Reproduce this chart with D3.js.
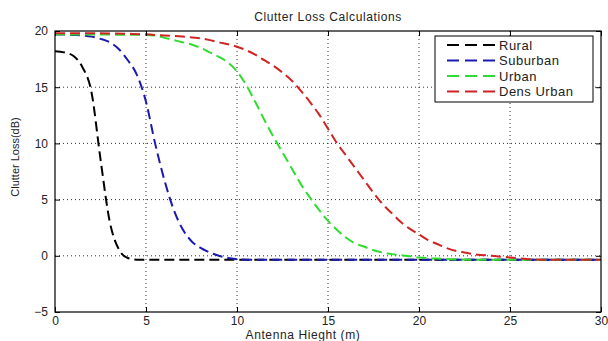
<!DOCTYPE html>
<html>
<head>
<meta charset="utf-8">
<script src="https://cdn.jsdelivr.net/npm/d3@7"></script>
<style>
  body { margin: 0; background: #fff; }
  svg { display: block; font-family: "Liberation Sans", Arial, sans-serif; }
</style>
</head>
<body>
<div id="chart"></div>
<script>
// data
var seriesNames = ["Rural", "Suburban", "Urban", "Dens Urban"];
var ruralX = [0, 0.5, 1, 1.5, 2, 2.5, 3, 3.5, 4, 4.5, 5, 30];
var ruralY = [18.2, 18.1, 17.8, 16.8, 14.6, 8.6, 3.1, 0.6, -0.2, -0.35, -0.35, -0.35];
var suburbanX = [0, 1, 2, 2.5, 3, 3.5, 4, 4.5, 5, 5.5, 6, 6.5, 7, 7.5, 8, 8.5, 9, 9.5, 10, 10.5, 30];
var suburbanY = [19.7, 19.65, 19.5, 19.3, 19.0, 18.4, 17.4, 16.1, 13.7, 10.0, 6.8, 4.2, 2.4, 1.3, 0.7, 0.3, 0.0, -0.2, -0.3, -0.35, -0.35];
var urbanX = [0, 5, 5.5, 6, 6.5, 7, 7.5, 8, 8.5, 9, 9.5, 10, 10.5, 11, 11.5, 12, 12.5, 13, 13.5, 14, 14.5, 15, 15.5, 16, 16.5, 17, 17.5, 18, 18.5, 19, 19.5, 20, 21, 22, 23, 30];
var urbanY = [19.7, 19.65, 19.6, 19.4, 19.2, 19.0, 18.8, 18.5, 18.1, 17.7, 17.2, 16.4, 15.2, 13.7, 12.1, 10.6, 9.2, 7.8, 6.4, 5.2, 4.1, 3.1, 2.3, 1.6, 1.1, 0.8, 0.5, 0.3, 0.15, 0.05, -0.05, -0.15, -0.25, -0.32, -0.35, -0.35];
var densX = [0, 2, 4, 5, 6, 7, 8, 9, 10, 10.5, 11, 11.5, 12, 12.5, 13, 13.5, 14, 14.5, 15, 15.5, 16, 16.5, 17, 17.5, 18, 18.5, 19, 19.5, 20, 20.5, 21, 21.5, 22, 22.5, 23, 24, 25, 26, 27, 30];
var densY = [19.8, 19.8, 19.75, 19.7, 19.6, 19.5, 19.35, 19.0, 18.6, 18.3, 17.9, 17.4, 16.9, 16.3, 15.6, 14.7, 13.7, 12.6, 11.3, 10.0, 8.9, 7.8, 6.7, 5.6, 4.6, 3.8, 3.0, 2.4, 1.9, 1.4, 1.05, 0.7, 0.45, 0.3, 0.15, 0.0, -0.15, -0.3, -0.35, -0.35];
var xTicks = [0, 5, 10, 15, 20, 25, 30];
var yTicks = [-5, 0, 5, 10, 15, 20];
var colors = ["#000000", "#1a1ab0", "#30dc30", "#d02424"];

var series = [
  {name: seriesNames[0], xs: ruralX, ys: ruralY},
  {name: seriesNames[1], xs: suburbanX, ys: suburbanY},
  {name: seriesNames[2], xs: urbanX, ys: urbanY},
  {name: seriesNames[3], xs: densX, ys: densY}
];

var width = 608, height = 341;
var margin = {top: 31, right: 7, bottom: 29, left: 55};
var w = width - margin.left - margin.right;
var h = height - margin.top - margin.bottom;

var svg = d3.select("#chart").append("svg")
    .attr("width", width)
    .attr("height", height);

var x = d3.scaleLinear().domain([0, 30]).range([margin.left, margin.left + w]);
var y = d3.scaleLinear().domain([-5, 20]).range([margin.top + h, margin.top]);

// grid lines (dotted)
svg.append("g").selectAll("line").data(xTicks.slice(1, -1)).enter().append("line")
    .attr("x1", d => x(d)).attr("x2", d => x(d))
    .attr("y1", margin.top).attr("y2", margin.top + h)
    .attr("stroke", "#333").attr("stroke-width", 1).attr("stroke-dasharray", "1,3");
svg.append("g").selectAll("line").data(yTicks.slice(1, -1)).enter().append("line")
    .attr("x1", margin.left).attr("x2", margin.left + w)
    .attr("y1", d => y(d)).attr("y2", d => y(d))
    .attr("stroke", "#333").attr("stroke-width", 1).attr("stroke-dasharray", "1,3");

// curves
var line = d3.line()
    .x(d => x(d[0]))
    .y(d => y(d[1]))
    .curve(d3.curveMonotoneX);

series.forEach(function(s, i) {
  svg.append("path")
      .datum(d3.zip(s.xs, s.ys))
      .attr("d", line)
      .attr("fill", "none")
      .attr("stroke", colors[i])
      .attr("stroke-width", 2)
      .attr("stroke-dasharray", "10,5");
});

// axes, ticks inward on all sides like matlab
var axisFont = function(g) {
  g.select(".domain").remove();
  g.selectAll("text").attr("font-size", "12px").attr("fill", "#222")
    .attr("font-family", "Liberation Sans, Arial, sans-serif");
  g.selectAll(".tick line").attr("stroke", "#000");
};
svg.append("g")
    .attr("transform", `translate(0, ${margin.top + h})`)
    .call(d3.axisBottom(x).tickValues(xTicks).tickSizeInner(-5).tickPadding(4))
    .call(axisFont);
svg.append("g")
    .attr("transform", `translate(${margin.left}, 0)`)
    .call(d3.axisLeft(y).tickValues(yTicks).tickSizeInner(-5).tickPadding(7))
    .call(axisFont);
svg.append("g")
    .attr("transform", `translate(0, ${margin.top})`)
    .call(d3.axisTop(x).tickValues(xTicks).tickSizeInner(-5).tickFormat(""))
    .call(axisFont);
svg.append("g")
    .attr("transform", `translate(${margin.left + w}, 0)`)
    .call(d3.axisRight(y).tickValues(yTicks).tickSizeInner(-5).tickFormat(""))
    .call(axisFont);

// box
svg.append("rect")
    .attr("x", margin.left).attr("y", margin.top)
    .attr("width", w).attr("height", h)
    .attr("fill", "none").attr("stroke", "#000").attr("stroke-width", 1.2);

// title and axis labels
svg.append("text")
    .attr("x", margin.left + w / 2).attr("y", 21)
    .attr("text-anchor", "middle").attr("font-size", "12px")
    .attr("letter-spacing", "0.6px").attr("fill", "#222")
    .text("Clutter Loss Calculations");
svg.append("text")
    .attr("x", 303).attr("y", 339)
    .attr("text-anchor", "middle").attr("font-size", "12px")
    .attr("letter-spacing", "0.6px").attr("fill", "#222")
    .text("Antenna Hieght (m)");
svg.append("text")
    .attr("transform", "translate(19, 157) rotate(-90)")
    .attr("text-anchor", "middle").attr("font-size", "11px")
    .attr("fill", "#222")
    .text("Clutter Loss(dB)");

// legend
var legend = svg.append("g");
legend.append("rect")
    .attr("x", 435).attr("y", 36).attr("width", 158).attr("height", 66)
    .attr("fill", "#fff").attr("stroke", "#000").attr("stroke-width", 1);
series.forEach(function(s, i) {
  var ly = 45 + i * 15.5;
  legend.append("line")
      .attr("x1", 447).attr("x2", 495).attr("y1", ly).attr("y2", ly)
      .attr("stroke", colors[i]).attr("stroke-width", 2)
      .attr("stroke-dasharray", "12,6");
  legend.append("text")
      .attr("x", 499).attr("y", ly + 4.5)
      .attr("font-size", "13px").attr("letter-spacing", "0.5px").attr("fill", "#222")
      .text(s.name);
});
</script>
</body>
</html>
